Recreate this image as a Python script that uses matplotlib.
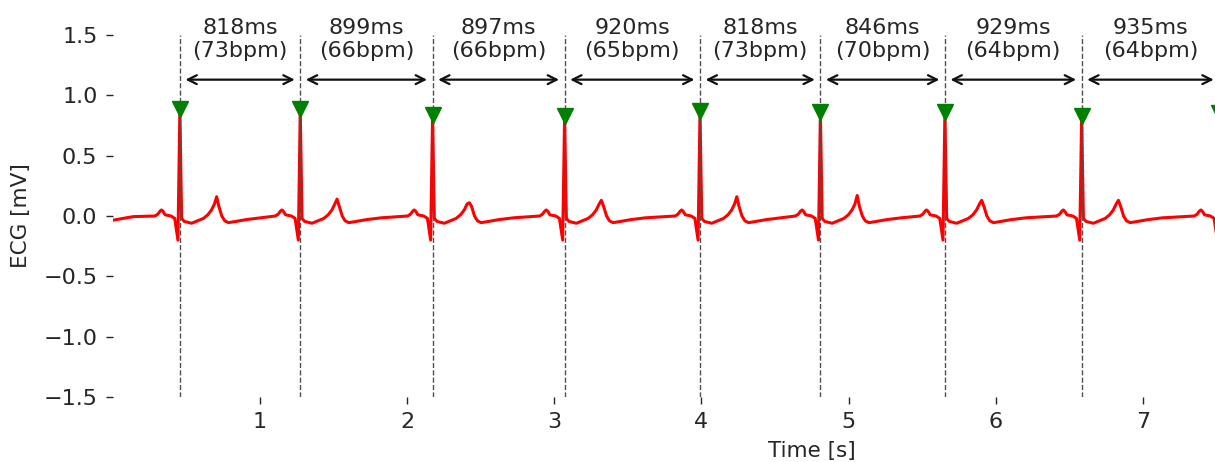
import numpy as np
import matplotlib.pyplot as plt

# RR intervals between detected R peaks [ms]
rr_ms = [818, 899, 897, 920, 818, 846, 929, 935]
first_peak = 0.456  # time of first R peak [s]

# per-beat amplitudes [mV]
r_mv = [0.89, 0.89, 0.84, 0.825, 0.87, 0.86, 0.86, 0.83, 0.85]
t_mv = [0.16, 0.14, 0.11, 0.13, 0.16, 0.17, 0.13, 0.13, 0.13]

# beat shape around each R peak (offset [s], level [mV])
pre_t = [-0.17, -0.15, -0.135, -0.125, -0.115, -0.10, -0.06, -0.035, -0.013]
pre_mv = [0.00, 0.015, 0.04, 0.05, 0.04, 0.01, 0.0, -0.02, -0.20]
post_t = [0.012, 0.03, 0.08, 0.12, 0.16, 0.19, 0.215, 0.235, 0.25,
          0.265, 0.285, 0.305, 0.33, 0.38, 0.45, 0.55]
post_mv = [-0.02, -0.045, -0.06, -0.04, -0.02, 0.01, 0.05, 0.10, None,
           0.08, 0.0, -0.04, -0.055, -0.045, -0.03, -0.015]

# signal before the first beat
lead_t = [0.0, 0.14]
lead_mv = [-0.035, -0.005]

x_ticks = [1, 2, 3, 4, 5, 6, 7]
y_ticks = [-1.5, -1.0, -0.5, 0.0, 0.5, 1.0, 1.5]

peaks = first_peak + np.concatenate([[0], np.cumsum(rr_ms) / 1000.0])

# assemble the trace beat by beat
t = list(lead_t)
v = list(lead_mv)
for p, r, tw in zip(peaks, r_mv, t_mv):
    t += [p + dt for dt in pre_t]
    v += pre_mv
    t.append(p)
    v.append(r)
    t += [p + dt for dt in post_t]
    v += [tw if m is None else m for m in post_mv]

plt.rcParams['font.family'] = ['DejaVu Sans']
txt_color = '#262626'

fig = plt.figure(figsize=(12.15, 4.62), dpi=100)
ax = fig.add_axes([0.0928, 0.1407, 1.1508, 0.7835])

ax.plot(t, v, color='red', lw=2.2, zorder=2)
ax.vlines(peaks, -1.5, 1.5, colors='#505050', linestyles='--', lw=1, zorder=3)
ax.plot(peaks, r_mv, 'v', color='green', ms=11, clip_on=False, zorder=4)

for i, rr in enumerate(rr_ms):
    a, b = peaks[i], peaks[i + 1]
    ax.annotate('', xy=(b, 1.13), xytext=(a, 1.13),
                arrowprops=dict(arrowstyle='<->', color='#111111', lw=1.6,
                                shrinkA=4, shrinkB=4, mutation_scale=16),
                annotation_clip=False)
    bpm = int(60000 / rr)
    ax.text((a + b) / 2, 1.46, f'{rr}ms\n({bpm}bpm)', ha='center', va='center',
            fontsize=16, color=txt_color, clip_on=False)

ax.set_xlim(0, 9.5)
ax.set_ylim(-1.5, 1.5)
ax.set_xticks(x_ticks)
ax.set_yticks(y_ticks)
for s in ax.spines.values():
    s.set_visible(False)
ax.tick_params(labelsize=16, length=5, width=1, pad=6, colors=txt_color)
ax.set_xlabel('Time [s]', fontsize=15.5, color=txt_color, labelpad=6)
ax.set_ylabel('ECG [mV]', fontsize=15.5, color=txt_color, labelpad=9)

fig.savefig('out.png', dpi=100)
